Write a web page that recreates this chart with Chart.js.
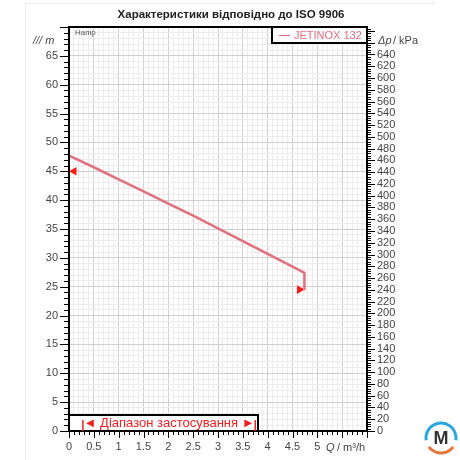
<!DOCTYPE html>
<html>
<head>
<meta charset="utf-8">
<script src="https://cdn.jsdelivr.net/npm/chart.js@4"></script>
<style>
  body { margin: 0; background: #fff; }
  #wrap { width: 460px; height: 460px; }
</style>
</head>
<body>
<div id="wrap"><canvas id="myChart"></canvas></div>
<script>
// pump curve (Q in m3/h, H in m)
let flow = [0, 0.5, 1, 1.5, 2, 2.5, 3, 3.5, 4, 4.5, 4.74, 4.74];
let head = [47.7, 45.7, 43.6, 41.5, 39.4, 37.3, 35.1, 32.9, 30.7, 28.5, 27.4, 24.4];
// red arrow markers
let markFlow = [0.1, 4.64];
let markHead = [45, 24.5];
// range of use
let rangeQ = [0.28, 3.75];
let kPaPerM = 9.81;

let font = "'Liberation Sans', Arial, sans-serif";
Chart.defaults.font.family = font;
Chart.defaults.font.size = 11;
Chart.defaults.color = '#444';

let extras = {
  id: 'extras',
  afterDraw(chart) {
    let c = chart.ctx, a = chart.chartArea;
    let x = chart.scales.x, y = chart.scales.y, y2 = chart.scales.y2;
    c.save();

    // card edge
    c.strokeStyle = '#ececec';
    c.lineWidth = 1;
    c.beginPath(); c.moveTo(25, 3.5); c.lineTo(435, 3.5); c.stroke();
    c.beginPath(); c.moveTo(25.5, 3); c.lineTo(25.5, 460); c.stroke();

    // tick marks
    c.strokeStyle = '#000';
    c.lineWidth = 1;
    c.beginPath();
    for (let i = 0; i <= 60; i++) {
      let px = Math.round(x.getPixelForValue(i / 10)) + 0.5;
      let len = i % 5 == 0 ? 7 : 4;
      c.moveTo(px, a.bottom); c.lineTo(px, a.bottom + len);
    }
    for (let i = 0; i <= 70; i++) {
      let py = Math.round(y.getPixelForValue(i)) + 0.5;
      let len = i % 5 == 0 ? 9 : 5;
      c.moveTo(a.left - len, py); c.lineTo(a.left, py);
    }
    for (let k = 0; k <= 684; k += 4) {
      let py = Math.round(y2.getPixelForValue(k)) + 0.5;
      let len = k % 20 == 0 ? 8 : 4;
      c.moveTo(a.right, py); c.lineTo(a.right + len, py);
    }
    c.stroke();

    // frame
    c.lineWidth = 2;
    c.strokeRect(a.left, a.top, a.right - a.left, a.bottom - a.top);

    // title
    c.fillStyle = '#222';
    c.font = 'bold 11.5px ' + font;
    c.textAlign = 'center';
    c.textBaseline = 'middle';
    c.fillText('Характеристики відповідно до ISO 9906', 231, 15);

    // axis titles
    c.textAlign = 'left';
    c.font = 'italic 11px ' + font;
    c.fillStyle = '#444';
    c.fillText('/// m', 33, 41);
    c.fillText('Δp', 378, 41);
    c.font = '11px ' + font;
    c.fillText('/ kPa', 393, 41);
    c.font = 'italic 11px ' + font;
    c.fillText('Q', 326, 448);
    c.font = '11px ' + font;
    c.fillText('/ m³/h', 337, 448);

    c.font = '8px ' + font;
    c.fillStyle = '#555';
    c.fillText('Напір', 75, 33);

    // legend box
    c.fillStyle = '#fff';
    c.fillRect(272, a.top, a.right - 272, 16);
    c.strokeStyle = '#000';
    c.lineWidth = 2;
    c.strokeRect(272, a.top, a.right - 272, 16);
    c.strokeStyle = '#e0707f';
    c.lineWidth = 1;
    c.beginPath(); c.moveTo(279, 35.5); c.lineTo(290, 35.5); c.stroke();
    c.fillStyle = '#e0707f';
    c.font = '11px ' + font;
    c.fillText('JETINOX 132', 294, 35.5);

    // range box
    let bx0 = a.left, bx1 = 258, by0 = 415;
    c.fillStyle = '#fff';
    c.fillRect(bx0, by0, bx1 - bx0, a.bottom - by0);
    c.strokeStyle = '#000';
    c.lineWidth = 2;
    c.strokeRect(bx0, by0, bx1 - bx0, a.bottom - by0);
    let r0 = x.getPixelForValue(rangeQ[0]), r1 = x.getPixelForValue(rangeQ[1]);
    c.strokeStyle = '#ee2222';
    c.lineWidth = 1.5;
    c.beginPath();
    c.moveTo(r0, 420); c.lineTo(r0, a.bottom);
    c.moveTo(r1, 420); c.lineTo(r1, a.bottom);
    c.stroke();
    c.fillStyle = '#ee2222';
    c.font = '13px ' + font;
    c.textAlign = 'center';
    c.fillText('◄ Діапазон застосування ►', (r0 + r1) / 2, 423.5);

    // logo
    c.lineWidth = 3;
    c.strokeStyle = '#2aa6df';
    c.beginPath(); c.arc(441, 438, 15, Math.PI * 0.95, Math.PI * 2.05); c.stroke();
    c.strokeStyle = '#e2773c';
    c.beginPath(); c.arc(441, 438, 15, Math.PI * 0.2, Math.PI * 0.8); c.stroke();
    c.fillStyle = '#333';
    c.font = 'bold 18px ' + font;
    c.fillText('M', 441, 439);

    c.restore();
  }
};

let myChart = document.getElementById('myChart').getContext('2d');

let chart = new Chart(myChart, {
  type: 'line',
  data: {
    datasets: [{
      data: flow.map((q, i) => ({ x: q, y: head[i] })),
      borderColor: '#e0707f',
      borderWidth: 2.5,
      pointRadius: 0,
      tension: 0
    }, {
      type: 'scatter',
      data: markFlow.map((q, i) => ({ x: q, y: markHead[i] })),
      pointStyle: 'triangle',
      rotation: ctx => ctx.dataIndex == 0 ? -90 : 90,
      pointRadius: 5,
      backgroundColor: '#ff1a1a',
      borderWidth: 0
    }]
  },
  options: {
    responsive: true,
    maintainAspectRatio: false,
    animation: false,
    layout: { padding: { top: 27 } },
    plugins: {
      legend: { display: false },
      tooltip: { enabled: false }
    },
    scales: {
      x: {
        type: 'linear',
        min: 0, max: 6,
        ticks: {
          stepSize: 0.1,
          autoSkip: false,
          maxRotation: 0,
          padding: 9,
          callback: v => {
            let t = Math.round(v * 10);
            return (t % 5 == 0 && t <= 50) ? String(t / 10) : '';
          }
        },
        grid: {
          drawTicks: false,
          color: ctx => ctx.tick && Math.round(ctx.tick.value * 10) % 5 == 0 ? '#cfcfcf' : '#ececec'
        },
        border: { display: false },
        afterFit: s => { s.height = 29; }
      },
      y: {
        position: 'left',
        min: 0, max: 70,
        ticks: {
          stepSize: 1,
          autoSkip: false,
          padding: 11,
          callback: v => (v % 5 == 0 && v <= 65) ? v : ''
        },
        grid: {
          drawTicks: false,
          color: ctx => ctx.tick && ctx.tick.value % 5 == 0 ? '#cfcfcf' : '#ececec'
        },
        border: { display: false },
        afterFit: s => { s.width = 69; }
      },
      y2: {
        position: 'right',
        min: 0, max: 70 * kPaPerM,
        ticks: {
          stepSize: 4,
          autoSkip: false,
          padding: 10,
          callback: v => (v % 20 == 0 && v <= 640) ? v : ''
        },
        grid: { drawOnChartArea: false, drawTicks: false },
        border: { display: false },
        afterFit: s => { s.width = 93; }
      }
    }
  },
  plugins: [extras]
});
</script>
</body>
</html>
